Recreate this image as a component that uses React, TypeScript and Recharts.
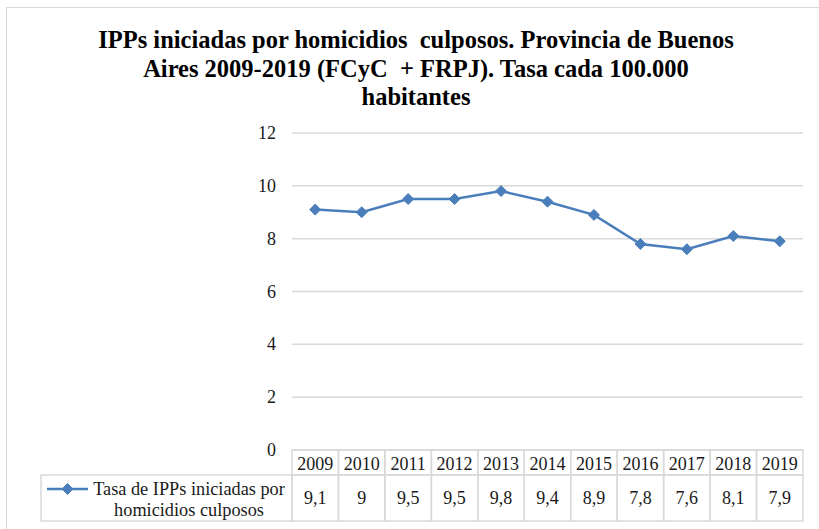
import React from 'react';
import { LineChart, Line, XAxis, YAxis, CartesianGrid } from 'recharts';

const years = ['2009', '2010', '2011', '2012', '2013', '2014', '2015', '2016', '2017', '2018', '2019'];
const rates = [9.1, 9, 9.5, 9.5, 9.8, 9.4, 8.9, 7.8, 7.6, 8.1, 7.9];
const yTicks = [0, 2, 4, 6, 8, 10, 12];
const seriesLabelLines = ['Tasa de IPPs iniciadas por', 'homicidios culposos'];
const titleLines = [
  'IPPs iniciadas por homicidios\u00a0 culposos. Provincia de Buenos',
  'Aires 2009-2019 (FCyC\u00a0 + FRPJ). Tasa cada 100.000',
  'habitantes',
];

const data = years.map((year, i) => ({ year, rate: rates[i] }));

const W = 819;
const H = 529;
const MARGIN = { top: 133, right: 16, bottom: 0, left: 0 };
const Y_AXIS_W = 292;
const X_AXIS_H = 79;
const PLOT_W = W - MARGIN.left - MARGIN.right - Y_AXIS_W;
const COL_W = PLOT_W / years.length;
const HEADER_H = 25;
const ROW_H = 46;
const LABEL_W = 251;
const BLUE = '#4a7ebb';
const GRID = '#d9d9d9';
const FONT = '"Liberation Serif", "Times New Roman", serif';
const TEXT = '#1a1a1a';

const fmt = (v: number) => String(v).replace('.', ',');

const Diamond = (props: any) => {
  const { cx, cy } = props;
  if (cx == null || cy == null) return null;
  const r = 5.5;
  return (
    <path
      d={`M${cx},${cy - r} L${cx + r},${cy} L${cx},${cy + r} L${cx - r},${cy} Z`}
      fill={BLUE}
      stroke={BLUE}
      strokeWidth={1}
    />
  );
};

function TableTick(props: any) {
  const { x, y, payload } = props;
  const i = payload.index;
  const left = x - COL_W / 2;
  const labelLeft = left - LABEL_W;
  return (
    <g>
      <rect x={left} y={y} width={COL_W} height={HEADER_H} fill="none" stroke={GRID} strokeWidth={1.5} />
      <rect x={left} y={y + HEADER_H} width={COL_W} height={ROW_H} fill="none" stroke={GRID} strokeWidth={1.5} />
      <text x={x} y={y + HEADER_H / 2 + 1} textAnchor="middle" dominantBaseline="central" fontFamily={FONT} fontSize={18} fill={TEXT}>
        {payload.value}
      </text>
      <text x={x} y={y + HEADER_H + ROW_H / 2} textAnchor="middle" dominantBaseline="central" fontFamily={FONT} fontSize={18} fill={TEXT}>
        {fmt(rates[i])}
      </text>
      {i === 0 && (
        <g>
          <rect x={labelLeft} y={y + HEADER_H} width={LABEL_W} height={ROW_H} fill="none" stroke={GRID} strokeWidth={1.5} />
          <line x1={labelLeft + 6} x2={labelLeft + 47} y1={y + HEADER_H + 14} y2={y + HEADER_H + 14} stroke={BLUE} strokeWidth={2.5} />
          <Diamond cx={labelLeft + 26.5} cy={y + HEADER_H + 14} />
          {seriesLabelLines.map((t, k) => (
            <text key={k} x={left - 103} y={y + HEADER_H + 14 + k * 21} textAnchor="middle" dominantBaseline="central" fontFamily={FONT} fontSize={18.3} fill={TEXT}>
              {t}
            </text>
          ))}
        </g>
      )}
    </g>
  );
}

function YTick(props: any) {
  const { x, y, payload } = props;
  return (
    <text x={x} y={y} textAnchor="end" dominantBaseline="central" fontFamily={FONT} fontSize={18} fill={TEXT}>
      {payload.value}
    </text>
  );
}

export default function App() {
  return (
    <div style={{ position: 'absolute', left: 0, top: 0, width: W, height: H, overflow: 'hidden', background: '#fff' }}>
      <div style={{ position: 'absolute', left: 6, top: 7, width: 900, height: 700, border: `1.5px solid ${GRID}`, boxSizing: 'border-box' }} />
      <div
        style={{
          position: 'absolute',
          left: 0,
          top: 26,
          width: 832,
          textAlign: 'center',
          fontFamily: FONT,
          fontWeight: 'bold',
          fontSize: 24.5,
          lineHeight: '28.5px',
          color: '#000',
          whiteSpace: 'pre',
        }}
      >
        {titleLines.map((t, k) => (
          <div key={k}>{t}</div>
        ))}
      </div>
      <div style={{ position: 'absolute', left: 0, top: 0 }}>
        <LineChart width={W} height={H} data={data} margin={MARGIN}>
          <CartesianGrid horizontal vertical={false} stroke={GRID} strokeWidth={1.5} />
          <XAxis
            dataKey="year"
            height={X_AXIS_H}
            axisLine={false}
            tickLine={false}
            tickSize={0}
            tickMargin={0}
            interval={0}
            padding={{ left: COL_W / 2, right: COL_W / 2 }}
            tick={(p: any) => <TableTick {...p} />}
          />
          <YAxis
            width={Y_AXIS_W}
            domain={[0, 12]}
            ticks={yTicks}
            axisLine={false}
            tickLine={false}
            tickMargin={10}
            tick={(p: any) => <YTick {...p} />}
          />
          <Line
            type="linear"
            dataKey="rate"
            stroke={BLUE}
            strokeWidth={2.5}
            dot={(p: any) => <Diamond key={p.index} {...p} />}
            activeDot={false}
            isAnimationActive={false}
          />
        </LineChart>
      </div>
    </div>
  );
}
